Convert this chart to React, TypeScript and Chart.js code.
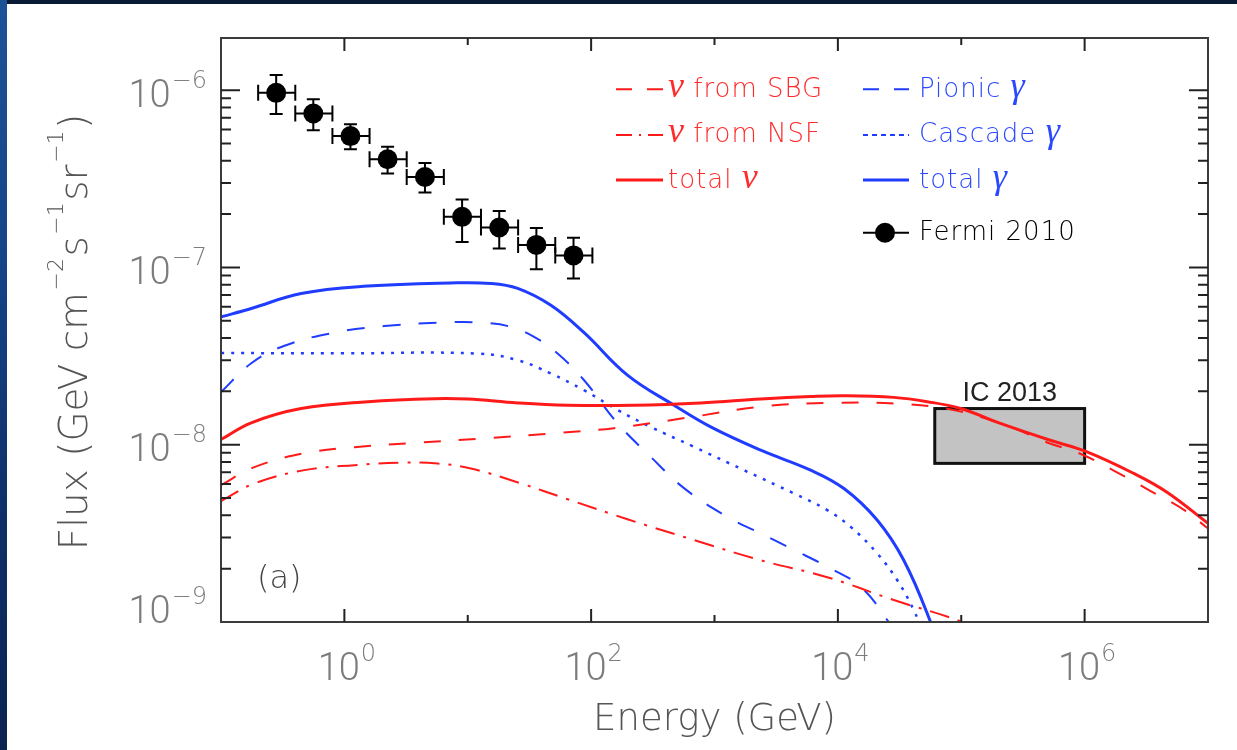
import React, { useEffect, useRef } from "react";
import { Chart, registerables } from "chart.js";
Chart.register(...registerables);

const W = 1237;
const H = 750;

// ---- Axis ranges / tick labels ----
const xMin = 0.1;
const xMax = 1e7;
const yMin = 1e-9;
const yMax = 1.97e-6;
const xLabelExps = [0, 2, 4, 6];
const yLabelExps = [-9, -8, -7, -6];

// ---- Fermi 2010 data ----
const fermiE = [0.28, 0.56, 1.12, 2.24, 4.5, 9.0, 18, 36, 72];
const fermiELo = [0.2, 0.4, 0.8, 1.6, 3.2, 6.4, 12.8, 25.6, 51.2];
const fermiEHi = [0.4, 0.8, 1.6, 3.2, 6.4, 12.8, 25.6, 51.2, 102.4];
const fermiF = [9.66e-7, 7.39e-7, 5.51e-7, 4.08e-7, 3.24e-7, 1.93e-7, 1.68e-7, 1.34e-7, 1.17e-7];
const fermiFHi = [1.22e-6, 8.9e-7, 6.43e-7, 4.79e-7, 3.89e-7, 2.42e-7, 2.08e-7, 1.67e-7, 1.47e-7];
const fermiFLo = [7.33e-7, 5.94e-7, 4.64e-7, 3.39e-7, 2.65e-7, 1.39e-7, 1.28e-7, 9.77e-8, 8.67e-8];

// ---- total gamma ----
const totalGammaE = [0.1, 0.176, 0.446, 1.55, 7.24, 15.4, 25.4, 47.2, 87.3, 197, 470, 931, 2370, 6010, 11200, 20800, 34200, 56400, 59000];
const totalGammaF = [5.26e-8, 5.87e-8, 7.13e-8, 7.85e-8, 8.18e-8, 8.13e-8, 7.62e-8, 6.12e-8, 4.3e-8, 2.47e-8, 1.67e-8, 1.26e-8, 9.31e-9, 7.19e-9, 5.66e-9, 3.76e-9, 2.23e-9, 1.0e-9, 8.5e-10];

// ---- pionic gamma ----
const pionicE = [0.1, 0.176, 0.327, 0.83, 2.11, 7.31, 13.6, 22.4, 34.5, 53.5, 87.7, 164, 304, 566, 1270, 2370, 4410, 8200, 15300, 25800, 28000];
const pionicF = [1.98e-8, 2.88e-8, 3.62e-8, 4.29e-8, 4.67e-8, 4.91e-8, 4.87e-8, 4.62e-8, 4.06e-8, 3.27e-8, 2.31e-8, 1.32e-8, 8.55e-9, 5.69e-9, 3.92e-9, 3.16e-9, 2.55e-9, 2.05e-9, 1.58e-9, 1.0e-9, 8.8e-10];

// ---- cascade gamma ----
const cascadeE = [0.1, 1.0, 12.0, 25.4, 47.2, 87.7, 164, 304, 682, 1730, 4410, 8200, 12700, 20800, 30300, 41200, 45300, 47000];
const cascadeF = [3.29e-8, 3.28e-8, 3.27e-8, 3.0e-8, 2.52e-8, 2.03e-8, 1.57e-8, 1.26e-8, 9.73e-9, 7.19e-9, 5.31e-9, 4.28e-9, 3.44e-9, 2.44e-9, 1.72e-9, 1.17e-9, 9.9e-10, 9.0e-10];

// ---- total neutrino ----
const totalNuE = [0.1, 0.176, 0.446, 1.55, 5.36, 9.98, 25.4, 64.4, 223, 773, 2370, 6010, 11200, 28400, 53000, 98600, 207500, 527000, 1.045e6, 2.5e6, 4.65e6, 1e7];
const totalNuF = [1.07e-8, 1.33e-8, 1.6e-8, 1.75e-8, 1.82e-8, 1.81e-8, 1.72e-8, 1.67e-8, 1.67e-8, 1.72e-8, 1.81e-8, 1.87e-8, 1.89e-8, 1.85e-8, 1.75e-8, 1.6e-8, 1.32e-8, 1.06e-8, 9.12e-9, 6.89e-9, 5.4e-9, 3.6e-9];

// ---- neutrino from SBG ----
const sbgE = [0.1, 0.182, 0.463, 1.21, 4.18, 14.5, 50.1, 153, 682, 2370, 8200, 28400, 86900, 250000, 497000, 923000, 1.72e6, 3.4e6, 6.34e6, 1e7];
const sbgF = [5.91e-9, 7.43e-9, 8.93e-9, 9.68e-9, 1.03e-8, 1.09e-8, 1.16e-8, 1.24e-8, 1.44e-8, 1.64e-8, 1.72e-8, 1.71e-8, 1.57e-8, 1.26e-8, 1.03e-8, 8.9e-9, 7.15e-9, 5.5e-9, 4.3e-9, 3.37e-9];

// ---- neutrino from NSF ----
const nsfE = [0.1, 0.187, 0.474, 1.21, 3.06, 5.7, 10.6, 27.0, 64.4, 197, 682, 2370, 8200, 28400, 98600, 130000];
const nsfF = [4.81e-9, 6.05e-9, 7.19e-9, 7.67e-9, 7.94e-9, 7.84e-9, 7.35e-9, 6.05e-9, 4.93e-9, 3.8e-9, 2.9e-9, 2.23e-9, 1.79e-9, 1.33e-9, 1.01e-9, 9.0e-10];

// ---- IceCube 2013 box ----
const icE = [6.1e4, 1.0e6];
const icF = [7.85e-9, 1.6e-8];
const icLabel = "IC 2013";

const RED = "#ff1a1a";
const BLUE = "#1f3cff";
const RED_TXT = "#ff2a2a";
const BLUE_TXT = "#2a48ff";

const mk = (E: number[], F: number[]) => E.map((e, i) => ({ x: e, y: F[i] }));

export default function App() {
  const ref = useRef<HTMLCanvasElement>(null);

  useEffect(() => {
    document.body.style.margin = "0";
    const canvas = ref.current!;

    const overlay = {
      id: "overlay",
      beforeDatasetsDraw(chart: any) {
        const ctx = chart.ctx;
        const xs = chart.scales.x;
        const ys = chart.scales.y;
        const x1 = xs.getPixelForValue(icE[0]);
        const x2 = xs.getPixelForValue(icE[1]);
        const y1 = ys.getPixelForValue(icF[1]);
        const y2 = ys.getPixelForValue(icF[0]);
        ctx.save();
        ctx.fillStyle = "#c3c3c3";
        ctx.fillRect(x1, y1, x2 - x1, y2 - y1);
        ctx.strokeStyle = "#111";
        ctx.lineWidth = 3;
        ctx.strokeRect(x1, y1, x2 - x1, y2 - y1);
        ctx.fillStyle = "#222";
        ctx.font = '27px "Liberation Sans"';
        ctx.textAlign = "center";
        ctx.textBaseline = "alphabetic";
        ctx.fillText(icLabel, (x1 + x2) / 2, y1 - 8);
        ctx.restore();
      },
      afterDatasetsDraw(chart: any) {
        const ctx = chart.ctx;
        const xs = chart.scales.x;
        const ys = chart.scales.y;
        ctx.save();
        ctx.strokeStyle = "#000";
        ctx.lineWidth = 2;
        fermiE.forEach((e, i) => {
          const cx = xs.getPixelForValue(e);
          const cy = ys.getPixelForValue(fermiF[i]);
          const xl = xs.getPixelForValue(fermiELo[i]);
          const xh = xs.getPixelForValue(fermiEHi[i]);
          const yh = ys.getPixelForValue(fermiFHi[i]);
          const yl = ys.getPixelForValue(fermiFLo[i]);
          ctx.beginPath();
          ctx.moveTo(xl, cy); ctx.lineTo(xh, cy);
          ctx.moveTo(xl, cy - 8); ctx.lineTo(xl, cy + 8);
          ctx.moveTo(xh, cy - 8); ctx.lineTo(xh, cy + 8);
          ctx.moveTo(cx, yh); ctx.lineTo(cx, yl);
          ctx.moveTo(cx - 6.5, yh); ctx.lineTo(cx + 6.5, yh);
          ctx.moveTo(cx - 6.5, yl); ctx.lineTo(cx + 6.5, yl);
          ctx.stroke();
        });
        ctx.restore();
      },
      afterDraw(chart: any) {
        const ctx = chart.ctx;
        const xs = chart.scales.x;
        const ys = chart.scales.y;
        const { left, right, top, bottom } = chart.chartArea;
        ctx.save();
        // frame
        ctx.strokeStyle = "#3c3c3c";
        ctx.lineWidth = 2;
        ctx.strokeRect(left, top, right - left, bottom - top);
        // ticks
        ctx.strokeStyle = "#222";
        ctx.lineWidth = 2;
        ctx.beginPath();
        for (let d = -1; d <= 7; d++) {
          const v = Math.pow(10, d);
          if (v <= xMin || v >= xMax) continue;
          const px = xs.getPixelForValue(v);
          const len = d % 2 === 0 ? 13 : 7;
          ctx.moveTo(px, bottom); ctx.lineTo(px, bottom - len);
          ctx.moveTo(px, top); ctx.lineTo(px, top + len);
        }
        for (let d = -9; d <= -6; d++) {
          for (let m = 1; m <= 9; m++) {
            const v = m * Math.pow(10, d);
            if (v <= yMin * 1.0001 || v >= yMax) continue;
            const py = ys.getPixelForValue(v);
            const len = m === 1 ? 19 : 10;
            ctx.moveTo(left, py); ctx.lineTo(left + len, py);
            ctx.moveTo(right, py); ctx.lineTo(right - len, py);
          }
        }
        ctx.stroke();

        // tick labels
        const mainF = '300 38px Roboto';
        const supF = '200 24px "DejaVu Sans"';
        ctx.fillStyle = "#7c7c7c";
        ctx.textBaseline = "alphabetic";
        ctx.textAlign = "left";
        yLabelExps.forEach((d) => {
          const py = ys.getPixelForValue(Math.pow(10, d));
          const base = Math.min(py + 16.5, 623);
          const sup = "\u2212" + Math.abs(d);
          ctx.font = supF;
          const sw = ctx.measureText(sup).width;
          ctx.font = mainF;
          const mw = ctx.measureText("10").width;
          const xr = 207;
          ctx.fillText("10", xr - sw - mw - 1, base);
          ctx.font = supF;
          ctx.fillText(sup, xr - sw, base - 19);
        });
        xLabelExps.forEach((d) => {
          const px = xs.getPixelForValue(Math.pow(10, d));
          const sup = String(d);
          ctx.font = supF;
          const sw = ctx.measureText(sup).width;
          ctx.font = mainF;
          const mw = ctx.measureText("10").width;
          const x0 = px - (mw + sw) / 2 + 2;
          ctx.fillText("10", x0, 680);
          ctx.font = supF;
          ctx.fillText(sup, x0 + mw + 1, 661);
        });

        // axis titles
        ctx.fillStyle = "#555";
        ctx.font = '200 37px "DejaVu Sans"';
        ctx.textAlign = "center";
        ctx.fillText("Energy (GeV)", (left + right) / 2, 730);

        // y title (rotated, with superscripts)
        const segs: [string, boolean][] = [
          ["Flux (GeV cm", false], ["\u22122", true], ["s", false], ["\u22121", true],
          ["sr", false], ["\u22121", true], [")", false],
        ];
        const tMain = '200 39px "DejaVu Sans"';
        const tSup = '200 22px "DejaVu Sans"';
        let total = 0;
        const widths = segs.map(([t, s]) => {
          ctx.font = s ? tSup : tMain;
          const w = ctx.measureText(t).width + (s ? 3 : 0);
          total += w;
          return w;
        });
        ctx.save();
        ctx.translate(87, (top + bottom) / 2 + 2);
        ctx.rotate(-Math.PI / 2);
        ctx.textAlign = "left";
        let cx = -total / 2;
        segs.forEach(([t, s], i) => {
          ctx.font = s ? tSup : tMain;
          ctx.fillText(t, cx + (s ? 1.5 : 0), s ? -24 : 0);
          cx += widths[i];
        });
        ctx.restore();

        // (a)
        ctx.fillStyle = "#444";
        ctx.font = '200 32px "DejaVu Sans"';
        ctx.textAlign = "left";
        ctx.fillText("(a)", 257, 588);

        // legend
        const drawSample = (x1: number, x2: number, y: number, color: string, dash: number[], w: number) => {
          ctx.save();
          ctx.strokeStyle = color;
          ctx.lineWidth = w;
          ctx.setLineDash(dash);
          ctx.beginPath();
          ctx.moveTo(x1, y); ctx.lineTo(x2, y);
          ctx.stroke();
          ctx.restore();
        };
        const tF = '200 26px "DejaVu Sans"';
        const gF = 'italic 36px "Liberation Serif"';
        const drawEntry = (x: number, base: number, greekFirst: boolean, greek: string, text: string, color: string) => {
          ctx.fillStyle = color;
          ctx.textAlign = "left";
          let xx = x;
          if (greekFirst) {
            ctx.letterSpacing = "0px";
            ctx.font = gF; ctx.fillText(greek, xx, base); xx += ctx.measureText(greek).width;
            ctx.letterSpacing = "1px";
            ctx.font = tF; ctx.fillText(text, xx, base);
          } else {
            ctx.letterSpacing = "1px";
            ctx.font = tF; ctx.fillText(text, xx, base); xx += ctx.measureText(text).width;
            ctx.letterSpacing = "0px";
            ctx.font = gF; ctx.fillText(greek, xx, base);
          }
          ctx.letterSpacing = "0px";
        };
        const rows = [96.7, 141.7, 188.3, 240];
        const lines = [89.3, 135, 180, 232.7];
        // left column
        drawSample(616, 663, lines[0], RED, [16, 15], 2);
        drawEntry(668, rows[0], true, "\u03bd", " from SBG", RED_TXT);
        drawSample(616, 663, lines[1], RED, [16, 7, 2, 7], 2);
        drawEntry(668, rows[1], true, "\u03bd", " from NSF", RED_TXT);
        drawSample(616, 663, lines[2], RED, [], 3);
        drawEntry(668, rows[2], false, "\u03bd", "total ", RED_TXT);
        // right column
        drawSample(863, 909, lines[0], BLUE, [16, 15], 2);
        drawEntry(919, rows[0], false, "\u03b3", "Pionic ", BLUE_TXT);
        drawSample(863, 909, lines[1], BLUE, [5, 4], 2);
        drawEntry(919, rows[1], false, "\u03b3", "Cascade ", BLUE_TXT);
        drawSample(863, 909, lines[2], BLUE, [], 3);
        drawEntry(919, rows[2], false, "\u03b3", "total ", BLUE_TXT);
        drawSample(863, 909, lines[3], "#000", [], 2);
        ctx.fillStyle = "#000";
        ctx.beginPath();
        ctx.arc(885, lines[3], 10, 0, Math.PI * 2);
        ctx.fill();
        ctx.letterSpacing = "1px";
        ctx.font = tF;
        ctx.fillText("Fermi 2010", 919, rows[3]);
        ctx.letterSpacing = "0px";
        ctx.restore();
      },
    };

    const lineDs = (label: string, E: number[], F: number[], color: string, width: number, dash: number[]) => ({
      label,
      data: mk(E, F),
      borderColor: color,
      backgroundColor: color,
      borderWidth: width,
      borderDash: dash,
      pointRadius: 0,
      fill: false,
      tension: 0.4,
    });

    const chart = new Chart(canvas, {
      type: "line",
      data: {
        datasets: [
          {
            label: "Fermi 2010",
            data: mk(fermiE, fermiF),
            showLine: false,
            pointRadius: 10,
            pointBackgroundColor: "#000",
            pointBorderColor: "#000",
            pointBorderWidth: 0,
            borderColor: "#000",
          } as any,
          lineDs("total \u03bd", totalNuE, totalNuF, RED, 3, []),
          lineDs("\u03bd from SBG", sbgE, sbgF, RED, 2, [17, 18]),
          lineDs("\u03bd from NSF", nsfE, nsfF, RED, 2, [20, 9, 3, 9]),
          lineDs("total \u03b3", totalGammaE, totalGammaF, BLUE, 3, []),
          lineDs("Pionic \u03b3", pionicE, pionicF, BLUE, 2, [18, 18]),
          lineDs("Cascade \u03b3", cascadeE, cascadeF, BLUE, 2.5, [3, 7]),
        ],
      },
      options: {
        responsive: false,
        animation: false,
        devicePixelRatio: 1,
        layout: { padding: { left: 0, top: 38, right: 29, bottom: 0 } },
        plugins: { legend: { display: false }, tooltip: { enabled: false }, title: { display: false } },
        scales: {
          x: {
            type: "logarithmic",
            min: xMin,
            max: xMax,
            ticks: { display: false },
            grid: { display: false },
            border: { display: false },
            afterFit: (s: any) => { s.height = 128; },
          },
          y: {
            type: "logarithmic",
            min: yMin,
            max: yMax,
            ticks: { display: false },
            grid: { display: false },
            border: { display: false },
            afterFit: (s: any) => { s.width = 221; },
          },
        },
      },
      plugins: [overlay],
    });
    return () => chart.destroy();
  }, []);

  return (
    <div style={{ position: "fixed", left: 0, top: 0, width: W, height: H, background: "#fff", overflow: "hidden" }}>
      <canvas ref={ref} width={W} height={H} style={{ position: "absolute", left: 0, top: 0, width: W, height: H }} />
      <div style={{ position: "absolute", left: 0, top: 0, width: W, height: 4, background: "#0b1a33" }} />
      <div
        style={{
          position: "absolute", left: 0, top: 0, width: 7, height: H,
          background: "linear-gradient(#1e5296 0%, #154487 35%, #0e2f66 70%, #0a2450 100%)",
        }}
      />
    </div>
  );
}
